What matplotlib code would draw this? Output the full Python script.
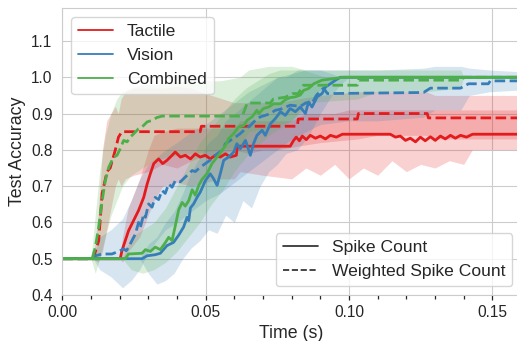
import matplotlib
matplotlib.use('Agg')
import matplotlib.pyplot as plt
from matplotlib.lines import Line2D
from matplotlib.ticker import MultipleLocator
import seaborn as sns

sns.set_style('whitegrid')
plt.rcParams['font.family'] = ['Liberation Sans', 'DejaVu Sans']

# colours of the three modalities
modalities = ['Tactile', 'Vision', 'Combined']
colors = ['#e41a1c', '#377eb8', '#4daf4a']

# ---- Tactile, spike count (solid) ----
tac_t = [0, 20.2, 20.8, 23.1, 26.6, 28.4, 29.6, 30.7, 31.9, 33.6, 35.0, 36.5, 38.3, 39.4,
         41.2, 42.9, 44.7, 46.4, 48.1, 49.9, 51.6, 53.4, 55.1, 56.9, 58.6, 60.7, 61.1,
         79.5, 80.6, 81.6, 82.7, 83.7, 85.1, 86.5, 88.3, 90.0, 91.8, 93.5, 95.6, 97.7,
         114.4, 116.2, 117.9, 119.7, 121.4, 123.2, 124.9, 126.6, 128.4, 130.1, 131.9,
         133.6, 135.4, 137.1, 138.9, 141.0, 143.1, 160]
tac_acc = [0.5, 0.5, 0.522, 0.577, 0.633, 0.669, 0.706, 0.734, 0.762, 0.775, 0.762, 0.771,
           0.785, 0.794, 0.78, 0.785, 0.775, 0.789, 0.78, 0.785, 0.775, 0.785, 0.78, 0.789,
           0.78, 0.785, 0.81, 0.81, 0.825, 0.835, 0.825, 0.838, 0.828, 0.84, 0.832, 0.838,
           0.83, 0.84, 0.835, 0.843, 0.843, 0.835, 0.838, 0.826, 0.832, 0.822, 0.835, 0.825,
           0.836, 0.826, 0.838, 0.83, 0.84, 0.832, 0.84, 0.835, 0.843, 0.843]
tac_band_t = [0, 20, 21, 23, 27, 30, 32, 35, 40, 45, 50, 55, 60, 62, 70, 80, 85, 90, 95,
              100, 105, 110, 115, 120, 125, 130, 135, 140, 143, 160]
tac_lo = [0.5, 0.5, 0.49, 0.52, 0.56, 0.62, 0.66, 0.70, 0.71, 0.70, 0.71, 0.72, 0.72, 0.74,
          0.73, 0.72, 0.75, 0.73, 0.76, 0.72, 0.75, 0.73, 0.77, 0.74, 0.76, 0.75, 0.77,
          0.76, 0.80, 0.80]
tac_hi = [0.5, 0.5, 0.56, 0.64, 0.72, 0.80, 0.84, 0.85, 0.86, 0.86, 0.86, 0.86, 0.86, 0.88,
          0.88, 0.88, 0.90, 0.90, 0.90, 0.91, 0.91, 0.91, 0.91, 0.91, 0.91, 0.91, 0.91,
          0.91, 0.91, 0.91]

# ---- Tactile, weighted spike count (dashed) ----
tacw_t = [0, 10.8, 12.7, 13.9, 15.6, 16.7, 18.5, 19.6, 20.8, 48.1, 48.5, 82.0, 82.3,
          102.9, 103.3, 127.3, 127.7, 160]
tacw_acc = [0.5, 0.5, 0.55, 0.68, 0.74, 0.75, 0.80, 0.835, 0.85, 0.85, 0.865, 0.865,
            0.885, 0.885, 0.90, 0.90, 0.888, 0.888]
tacw_band_t = [0, 10.8, 12.5, 14, 15.5, 17, 18.5, 19.5, 20.5, 22, 25, 30, 35, 40, 45, 48,
               52, 56, 60, 65, 70, 75, 82, 90, 103, 110, 127, 130, 160]
tacw_lo = [0.5, 0.5, 0.49, 0.52, 0.58, 0.64, 0.70, 0.72, 0.70, 0.72, 0.73, 0.74, 0.76,
           0.75, 0.77, 0.78, 0.78, 0.79, 0.80, 0.79, 0.80, 0.80, 0.81, 0.82, 0.83, 0.84,
           0.84, 0.83, 0.83]
tacw_hi = [0.5, 0.5, 0.62, 0.80, 0.88, 0.90, 0.92, 0.90, 0.94, 0.96, 0.97, 0.97, 0.97,
           0.975, 0.97, 0.96, 0.95, 0.94, 0.93, 0.93, 0.93, 0.93, 0.94, 0.95, 0.96, 0.96,
           0.96, 0.95, 0.95]

# ---- Vision, spike count (solid) ----
vis_t = [0, 27.8, 29.6, 32.4, 34.2, 36.5, 38.8, 40.6, 42.3, 43.5, 44.1, 44.7, 45.8, 47.0,
         48.1, 49.9, 51.6, 52.8, 54.0, 55.1, 56.3, 58.0, 59.8, 60.9, 62.1, 63.9, 65.6,
         66.7, 67.9, 69.7, 70.8, 72.6, 74.3, 76.1, 77.8, 79.5, 81.3, 83.0, 84.8, 85.9,
         87.1, 88.9, 90.6, 91.8, 93.5, 95.3, 97.0, 160]
vis_acc = [0.5, 0.5, 0.508, 0.511, 0.515, 0.536, 0.545, 0.565, 0.587, 0.614, 0.605, 0.64,
           0.651, 0.669, 0.683, 0.715, 0.734, 0.72, 0.702, 0.734, 0.771, 0.78, 0.794,
           0.817, 0.803, 0.826, 0.785, 0.817, 0.84, 0.854, 0.84, 0.872, 0.886, 0.905,
           0.895, 0.914, 0.905, 0.918, 0.9, 0.932, 0.918, 0.946, 0.955, 0.973, 0.982,
           0.992, 1.0, 1.0]
vis_band_t = [0, 27, 30, 33, 36, 39, 42, 45, 48, 51, 54, 57, 60, 63, 66, 69, 72, 75, 78,
              82, 86, 90, 94, 97, 100, 160]
vis_lo = [0.5, 0.5, 0.46, 0.43, 0.44, 0.46, 0.50, 0.53, 0.55, 0.58, 0.57, 0.62, 0.60,
          0.66, 0.64, 0.70, 0.74, 0.76, 0.79, 0.80, 0.84, 0.90, 0.95, 0.98, 1.0, 1.0]
vis_hi = [0.5, 0.5, 0.54, 0.56, 0.60, 0.63, 0.68, 0.74, 0.78, 0.82, 0.84, 0.88, 0.90,
          0.92, 0.94, 0.96, 0.98, 1.0, 1.0, 1.02, 1.02, 1.02, 1.01, 1.0, 1.0, 1.0]

# ---- Vision, weighted spike count (dashed) ----
visw_t = [0, 10.8, 11.5, 13.9, 17.3, 19.6, 21.4, 22.3, 23.1, 24.3, 25.5, 26.6, 27.2,
          28.4, 29.0, 30.1, 31.3, 32.4, 33.6, 34.8, 35.9, 37.1, 38.3, 39.4, 41.2, 42.9,
          45.3, 46.4, 48.1, 49.9, 52.2, 54.0, 55.7, 56.9, 58.6, 60.4, 62.1, 63.9, 65.6,
          67.3, 69.1, 70.8, 72.6, 74.3, 76.1, 79.5, 83.0, 85.1, 86.9, 88.6, 91.1, 92.5,
          126.0, 128.4, 138.9, 141.7, 148.6, 149.3, 160]
visw_acc = [0.5, 0.5, 0.508, 0.513, 0.513, 0.52, 0.527, 0.522, 0.531, 0.55, 0.568, 0.6,
            0.585, 0.623, 0.614, 0.651, 0.642, 0.669, 0.663, 0.688, 0.68, 0.706, 0.697,
            0.715, 0.712, 0.725, 0.743, 0.74, 0.752, 0.762, 0.775, 0.789, 0.798, 0.817,
            0.826, 0.835, 0.845, 0.858, 0.867, 0.881, 0.891, 0.895, 0.9, 0.909, 0.912,
            0.923, 0.92, 0.93, 0.925, 0.95, 0.97, 0.955, 0.958, 0.97, 0.97, 0.982, 0.982,
            0.99, 0.99]
visw_band_t = [0, 10.8, 13, 17, 21, 24, 27, 30, 33, 36, 40, 45, 50, 55, 60, 65, 70, 75,
               80, 85, 90, 100, 110, 126, 130, 139, 142, 149, 160]
visw_lo = [0.5, 0.5, 0.47, 0.45, 0.42, 0.44, 0.47, 0.52, 0.55, 0.58, 0.60, 0.63, 0.66,
           0.68, 0.71, 0.74, 0.77, 0.80, 0.83, 0.85, 0.87, 0.88, 0.88, 0.89, 0.91, 0.91,
           0.95, 0.96, 0.965]
visw_hi = [0.5, 0.5, 0.56, 0.58, 0.61, 0.66, 0.72, 0.76, 0.78, 0.80, 0.82, 0.85, 0.87,
           0.90, 0.93, 0.96, 0.98, 1.0, 1.01, 1.02, 1.02, 1.02, 1.02, 1.025, 1.03, 1.03,
           1.025, 1.02, 1.015]

# ---- Combined, spike count (solid) ----
com_t = [0, 22.0, 23.1, 27.8, 29.0, 30.7, 32.4, 34.2, 36.0, 37.1, 38.3, 39.4, 40.6,
         41.8, 42.9, 44.1, 45.3, 46.4, 47.6, 48.7, 50.5, 52.2, 54.0, 55.7, 56.9, 58.0,
         59.8, 61.5, 63.3, 64.4, 66.2, 67.9, 68.5, 70.2, 72.0, 73.7, 76.1, 77.8, 79.5,
         81.3, 83.0, 84.2, 85.9, 87.7, 90.6, 93.5, 98.1, 160]
com_acc = [0.5, 0.5, 0.513, 0.515, 0.525, 0.52, 0.532, 0.525, 0.545, 0.559, 0.55, 0.59,
           0.635, 0.655, 0.645, 0.66, 0.69, 0.675, 0.702, 0.718, 0.735, 0.762, 0.78,
           0.798, 0.812, 0.831, 0.845, 0.863, 0.867, 0.881, 0.891, 0.909, 0.9, 0.914,
           0.918, 0.927, 0.927, 0.938, 0.944, 0.946, 0.951, 0.964, 0.969, 0.982, 0.992,
           0.995, 1.0, 1.0]
com_band_t = [0, 21, 24, 28, 32, 36, 40, 44, 48, 52, 56, 60, 64, 68, 72, 76, 80, 84, 88,
              92, 97, 160]
com_lo = [0.5, 0.5, 0.47, 0.46, 0.47, 0.49, 0.52, 0.56, 0.60, 0.65, 0.69, 0.74, 0.78,
          0.81, 0.84, 0.86, 0.88, 0.91, 0.95, 0.98, 1.0, 1.0]
com_hi = [0.5, 0.5, 0.56, 0.58, 0.60, 0.64, 0.70, 0.76, 0.82, 0.86, 0.90, 0.94, 0.97,
          0.99, 1.01, 1.02, 1.02, 1.02, 1.01, 1.0, 1.0, 1.0]

# ---- Combined, weighted spike count (dashed) ----
comw_t = [0, 10.4, 11.5, 12.7, 13.9, 15.0, 16.2, 17.9, 19.1, 20.2, 21.4, 22.6, 23.7,
          25.5, 26.6, 27.8, 29.6, 31.3, 33.0, 34.8, 62.8, 64.5, 72.6, 73.6, 77.8, 80.2,
          82.3, 84.1, 102.9, 103.3, 139.6, 139.9, 160]
comw_acc = [0.5, 0.5, 0.531, 0.587, 0.66, 0.715, 0.752, 0.78, 0.785, 0.803, 0.826,
            0.822, 0.835, 0.849, 0.858, 0.863, 0.877, 0.881, 0.889, 0.893, 0.893, 0.929,
            0.929, 0.94, 0.945, 0.955, 0.955, 0.978, 0.978, 0.992, 0.992, 1.0, 1.0]
comw_band_t = [0, 10, 11.5, 13, 15, 17, 19, 21, 24, 28, 32, 36, 45, 55, 62, 65, 72, 80,
               85, 103, 110, 127, 139, 140, 160]
comw_lo = [0.5, 0.5, 0.46, 0.50, 0.56, 0.62, 0.66, 0.70, 0.73, 0.75, 0.77, 0.78, 0.79,
           0.80, 0.81, 0.85, 0.86, 0.88, 0.93, 0.94, 0.96, 0.96, 0.97, 1.0, 1.0]
comw_hi = [0.5, 0.5, 0.62, 0.74, 0.84, 0.90, 0.94, 0.96, 0.97, 0.98, 0.98, 0.985, 0.99,
           0.99, 1.0, 1.02, 1.03, 1.03, 1.02, 1.02, 1.02, 1.02, 1.02, 1.0, 1.0]

series = [
    (tac_t, tac_acc, tac_band_t, tac_lo, tac_hi, tacw_t, tacw_acc, tacw_band_t, tacw_lo, tacw_hi),
    (vis_t, vis_acc, vis_band_t, vis_lo, vis_hi, visw_t, visw_acc, visw_band_t, visw_lo, visw_hi),
    (com_t, com_acc, com_band_t, com_lo, com_hi, comw_t, comw_acc, comw_band_t, comw_lo, comw_hi),
]


def ms(values):
    return [v / 1000.0 for v in values]


fig = plt.figure(figsize=(5.17, 3.41), dpi=100)
ax = fig.add_axes([62.3 / 517, 46 / 341, (521 - 62.3) / 517, 286.7 / 341])

dash = (0, (3.8, 1.6))
for color, s in zip(colors, series):
    t, acc, bt, lo, hi, wt, wacc, wbt, wlo, whi = s
    ax.fill_between(ms(bt), lo, hi, color=color, alpha=0.2, lw=0)
    ax.fill_between(ms(wbt), wlo, whi, color=color, alpha=0.2, lw=0)
    ax.plot(ms(t), acc, color=color, lw=2.0)
    ax.plot(ms(wt), wacc, color=color, lw=2.0, linestyle=dash)

ax.set_xlim(0, 0.16)
ax.set_ylim(0.4, 1.19)
ax.xaxis.set_major_locator(MultipleLocator(0.05))
ax.xaxis.set_minor_locator(MultipleLocator(0.01))
ax.yaxis.set_major_locator(MultipleLocator(0.1))
ax.tick_params(axis='x', which='both', bottom=True, color='.15', labelsize=11.2)
ax.tick_params(axis='x', which='major', length=3.6, width=0.9)
ax.tick_params(axis='x', which='minor', length=2.6, width=0.9)
ax.tick_params(axis='y', labelsize=11.2)
ax.set_xlabel('Time (s)', fontsize=12.8)
ax.set_ylabel('Test Accuracy', fontsize=12.8)

# legends
mod_handles = [Line2D([], [], color=c, lw=1.3) for c in colors]
leg1 = ax.legend(mod_handles, modalities, loc='upper left', fontsize=12.6)
ax.add_artist(leg1)
style_handles = [Line2D([], [], color='.15', lw=1.2),
                 Line2D([], [], color='.15', lw=1.2, linestyle='--')]
ax.legend(style_handles, ['Spike Count', 'Weighted Spike Count'], loc='lower right',
          fontsize=12.6)

fig.savefig('out.png', dpi=100)
